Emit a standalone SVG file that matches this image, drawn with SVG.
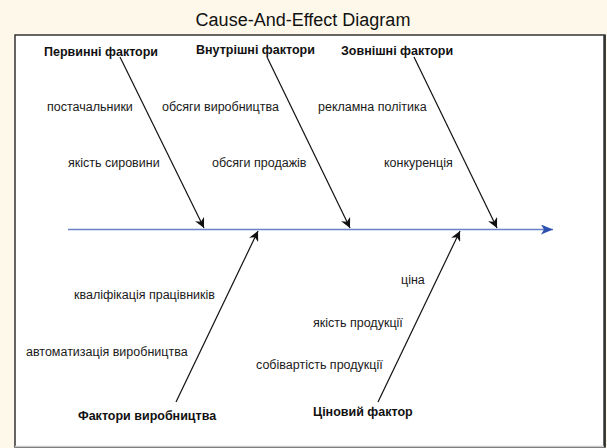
<svg xmlns="http://www.w3.org/2000/svg" width="607" height="448" viewBox="0 0 607 448">
<defs>
<marker id="ah" viewBox="0 0 10 10" refX="10" refY="5" markerWidth="10" markerHeight="10" markerUnits="userSpaceOnUse" orient="auto">
<path d="M0,0 L10,5 L0,10 L3,5 Z" fill="#111"/>
</marker>
<marker id="ahb" viewBox="0 0 12 10" refX="12" refY="5" markerWidth="12" markerHeight="10" markerUnits="userSpaceOnUse" orient="auto">
<path d="M0,0 L12,5 L0,10 L3,5 Z" fill="#2a50b0"/>
</marker>
<style>
.t{font-family:"Liberation Sans",Arial,sans-serif;font-size:12.5px;fill:#1a1a1a}
.b{font-family:"Liberation Sans",Arial,sans-serif;font-size:12.5px;font-weight:bold;fill:#111}
.bone{stroke:#111;stroke-width:1.2;fill:none;marker-end:url(#ah)}
</style>
</defs>
<rect x="0" y="0" width="607" height="448" fill="#fdf8ea"/>
<text x="303" y="26" text-anchor="middle" style="font-family:'Liberation Sans',Arial,sans-serif;font-size:18px;fill:#111">Cause-And-Effect Diagram</text>
<rect x="15" y="35" width="590" height="412" fill="#fff" stroke="#333" stroke-width="1.5"/>
<line x1="604.5" y1="35" x2="604.5" y2="447" stroke="#333" stroke-width="2.5"/>
<line x1="15" y1="446.5" x2="604" y2="446.5" stroke="#ccc" stroke-width="1.5"/>
<g id="connectors">
<line x1="68" y1="229.5" x2="553" y2="229.5" stroke="#6a80c8" stroke-width="1.5" marker-end="url(#ahb)"/>
<line class="bone" x1="120" y1="57" x2="204" y2="228"/>
<line class="bone" x1="267" y1="57" x2="350" y2="228"/>
<line class="bone" x1="414" y1="57" x2="497" y2="228"/>
<line class="bone" x1="176" y1="402" x2="258" y2="231"/>
<line class="bone" x1="378" y1="402" x2="460" y2="231"/>
</g>
<g id="node-pervynni">
<text class="b" x="44" y="56">Первинні фактори</text>
<text class="t" x="47" y="111">постачальники</text>
<text class="t" x="68" y="167">якість сировини</text>
</g>
<g id="node-vnutrishni">
<text class="b" x="196" y="54">Внутрішні фактори</text>
<text class="t" x="162" y="111">обсяги виробництва</text>
<text class="t" x="212" y="167">обсяги продажів</text>
</g>
<g id="node-zovnishni">
<text class="b" x="341" y="55">Зовнішні фактори</text>
<text class="t" x="318" y="111">рекламна політика</text>
<text class="t" x="384" y="167">конкуренція</text>
</g>
<g id="node-vyrobnytstva">
<text class="b" x="78" y="420">Фактори виробництва</text>
<text class="t" x="74" y="299">кваліфікація працівників</text>
<text class="t" x="26" y="356">автоматизація виробництва</text>
</g>
<g id="node-tsinovyi">
<text class="b" x="313" y="416">Ціновий фактор</text>
<text class="t" x="401" y="284">ціна</text>
<text class="t" x="313" y="327">якість продукції</text>
<text class="t" x="256" y="369">собівартість продукції</text>
</g>
</svg>
